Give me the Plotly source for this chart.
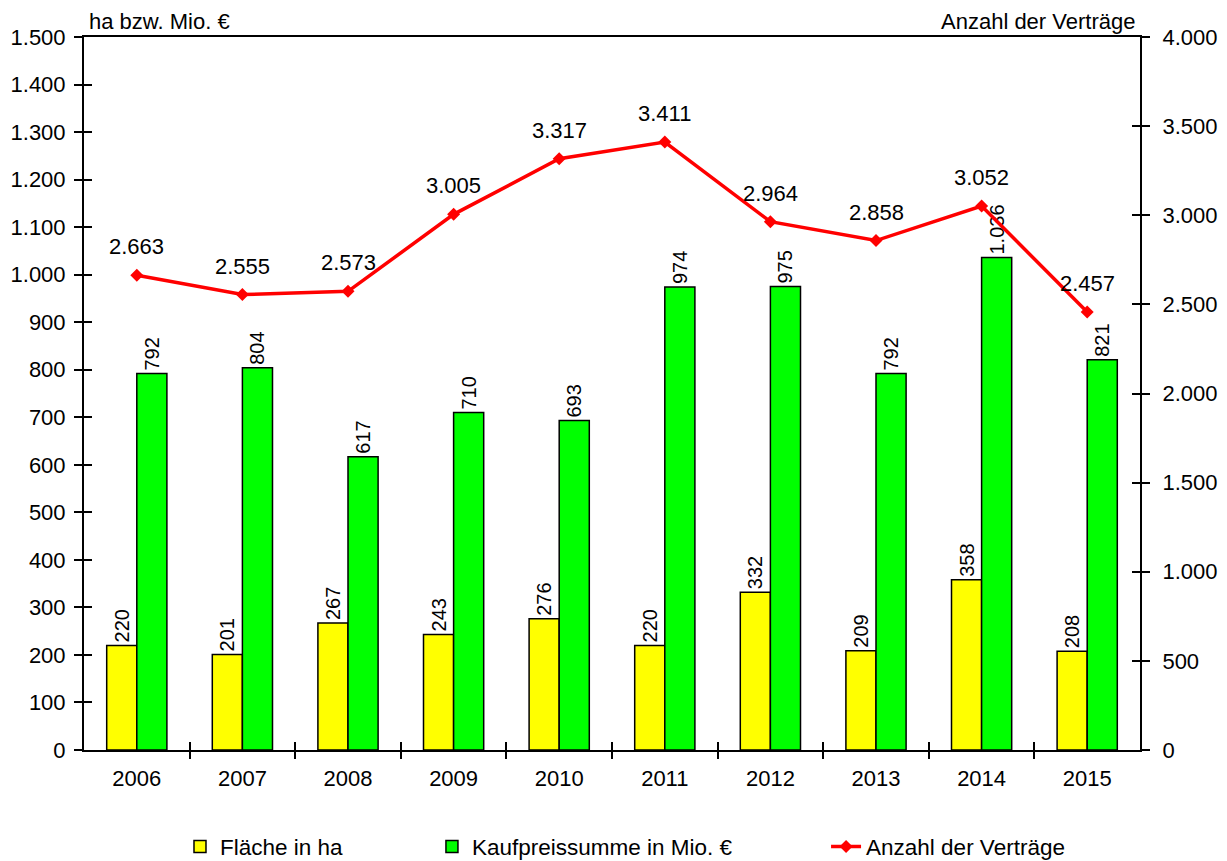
import plotly.graph_objects as go

years = ["2006", "2007", "2008", "2009", "2010", "2011", "2012", "2013", "2014", "2015"]
flaeche = [220, 201, 267, 243, 276, 220, 332, 209, 358, 208]
kaufpreis = [792, 804, 617, 710, 693, 974, 975, 792, 1036, 821]
anzahl = [2663, 2555, 2573, 3005, 3317, 3411, 2964, 2858, 3052, 2457]

idx = list(range(len(years)))
boundaries = [i + 0.5 for i in idx[:-1]]

FONT = "Liberation Sans, Arial, sans-serif"

fig = go.Figure()
fig.add_trace(go.Bar(
    x=idx, y=flaeche, name="Fläche in ha",
    marker=dict(color="#FFFF00", line=dict(color="black", width=1.5)),
    text=flaeche, texttemplate="%{y:,d}", textposition="outside", textangle=-90,
    constraintext="none",
    textfont=dict(size=20, color="black", family=FONT), cliponaxis=False,
    legend="legend",
))
fig.add_trace(go.Bar(
    x=idx, y=kaufpreis, name="Kaufpreissumme in Mio. €",
    marker=dict(color="#00FF00", line=dict(color="black", width=1.5)),
    text=kaufpreis, texttemplate="%{y:,d}", textposition="outside", textangle=-90,
    constraintext="none",
    textfont=dict(size=20, color="black", family=FONT), cliponaxis=False,
    legend="legend2",
))
fig.add_trace(go.Scatter(
    x=idx, y=anzahl, name="Anzahl der Verträge", yaxis="y2",
    mode="lines+markers",
    line=dict(color="#FF0000", width=3.5),
    marker=dict(symbol="diamond", size=10, color="#FF0000"),
    cliponaxis=False,
    legend="legend3",
))
# empty helper traces so that inside-tick overlay axes are rendered
fig.add_trace(go.Scatter(x=[None], y=[None], xaxis="x2", yaxis="y3", showlegend=False, hoverinfo="skip"))
fig.add_trace(go.Scatter(x=[None], y=[None], xaxis="x3", yaxis="y4", showlegend=False, hoverinfo="skip"))

axis_font = dict(size=22, color="black", family=FONT)

annotations = [
    dict(x=i, y=v, xref="x", yref="y2", text=f"{v:,d}".replace(",", "."),
         showarrow=False, yanchor="bottom", xanchor="center", yshift=14,
         font=dict(size=22, color="black", family=FONT))
    for i, v in zip(idx, anzahl)
]
annotations += [
    dict(text="ha bzw. Mio. €", xref="paper", yref="paper", x=0.003, y=1.0,
         xanchor="left", yanchor="bottom", showarrow=False, yshift=1,
         font=dict(size=22, color="black", family=FONT)),
    dict(text="Anzahl der Verträge", xref="paper", yref="paper", x=0.997, y=1.0,
         xanchor="right", yanchor="bottom", showarrow=False, yshift=1,
         font=dict(size=22, color="black", family=FONT)),
]

tick_common = dict(ticklen=8, tickwidth=2, tickcolor="black", showgrid=False,
                   zeroline=False, automargin=False)

legend_font = dict(size=22.5, family=FONT, color="black")

# page body has an 8px margin, so the figure is sized to fill the remaining window
fig.update_layout(
    width=1219, height=853,
    margin=dict(l=76, r=87, t=29, b=111, autoexpand=False),
    paper_bgcolor="white", plot_bgcolor="white",
    separators=",.",
    barmode="group", bargap=0.43, bargroupgap=0,
    font=dict(family=FONT, color="black"),
    xaxis=dict(
        range=[-0.5, 9.5], tickvals=idx, ticktext=years, ticks="",
        showline=True, linecolor="black", linewidth=2, mirror=True,
        showgrid=False, zeroline=False, tickfont=axis_font, anchor="y",
        automargin=False, ticklabelstandoff=8,
    ),
    xaxis2=dict(
        overlaying="x", range=[-0.5, 9.5], tickvals=boundaries, ticks="outside",
        showticklabels=False, showline=False, anchor="y", side="bottom", **tick_common,
    ),
    xaxis3=dict(
        overlaying="x", range=[-0.5, 9.5], tickvals=boundaries, ticks="inside",
        showticklabels=False, showline=False, anchor="y", side="bottom", **tick_common,
    ),
    yaxis=dict(
        range=[0, 1500], dtick=100, tickformat=",d", ticks="outside",
        showline=True, linecolor="black", linewidth=2,
        tickfont=axis_font, ticklabelstandoff=4, **tick_common,
    ),
    yaxis2=dict(
        overlaying="y", side="right", range=[0, 4000], dtick=500, tickformat=",d",
        ticks="outside", showline=True, linecolor="black", linewidth=2,
        tickfont=axis_font, ticklabelstandoff=8, **tick_common,
    ),
    yaxis3=dict(
        overlaying="y", side="left", range=[0, 1500], dtick=100, ticks="inside",
        showticklabels=False, showline=False, **tick_common,
    ),
    yaxis4=dict(
        overlaying="y", side="right", range=[0, 4000], dtick=500, ticks="inside",
        showticklabels=False, showline=False, **tick_common,
    ),
    legend=dict(x=0.0909, y=-0.136, xanchor="left", yanchor="middle",
                font=legend_font, bgcolor="rgba(0,0,0,0)"),
    legend2=dict(x=0.3295, y=-0.136, xanchor="left", yanchor="middle",
                 font=legend_font, bgcolor="rgba(0,0,0,0)"),
    legend3=dict(x=0.7027, y=-0.136, xanchor="left", yanchor="middle",
                 font=legend_font, bgcolor="rgba(0,0,0,0)"),
    annotations=annotations,
)

fig.write_html("out.html")
